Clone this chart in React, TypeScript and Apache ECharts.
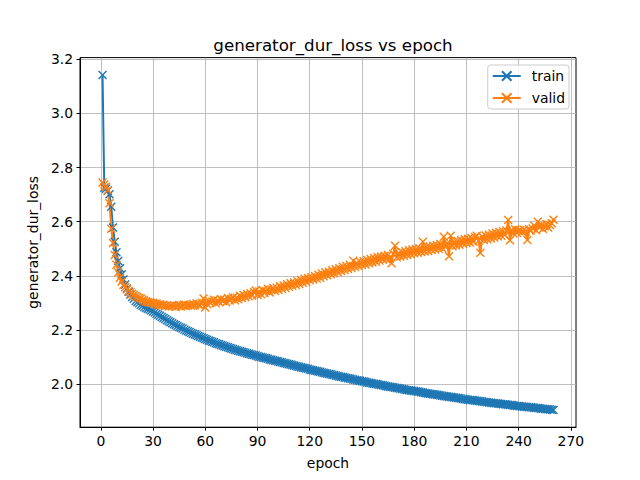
import React, { useEffect, useRef } from 'react';
import * as echarts from 'echarts';

const titleText = 'generator_dur_loss vs epoch';
const xName = 'epoch';
const yName = 'generator_dur_loss';
const seriesNames = ['train', 'valid'];
const xTicks = [0, 30, 60, 90, 120, 150, 180, 210, 240, 270];
const yTicks = [2.0, 2.2, 2.4, 2.6, 2.8, 3.0, 3.2];
const xRange = [-11.95, 272.95];
const yRange = [1.8404, 3.2063];

const train = [
  3.142, 2.725, 2.722, 2.714, 2.701, 2.655, 2.578, 2.526, 2.487, 2.455,
  2.428, 2.405, 2.386, 2.368, 2.353, 2.341, 2.331, 2.322, 2.315, 2.307,
  2.302, 2.298, 2.293, 2.289, 2.285, 2.281, 2.278, 2.275, 2.272, 2.268,
  2.264, 2.260, 2.256, 2.252, 2.248, 2.244, 2.240, 2.236, 2.232, 2.228,
  2.225, 2.221, 2.218, 2.214, 2.211, 2.208, 2.205, 2.201, 2.198, 2.195,
  2.192, 2.189, 2.186, 2.183, 2.180, 2.177, 2.175, 2.172, 2.169, 2.166,
  2.164, 2.161, 2.159, 2.156, 2.154, 2.151, 2.149, 2.147, 2.144, 2.142,
  2.140, 2.138, 2.136, 2.133, 2.131, 2.129, 2.127, 2.125, 2.123, 2.121,
  2.119, 2.117, 2.116, 2.114, 2.112, 2.110, 2.108, 2.107, 2.105, 2.103,
  2.101, 2.100, 2.098, 2.096, 2.095, 2.093, 2.091, 2.090, 2.088, 2.086,
  2.085, 2.083, 2.081, 2.080, 2.078, 2.077, 2.075, 2.073, 2.072, 2.070,
  2.068, 2.067, 2.065, 2.064, 2.062, 2.060, 2.059, 2.057, 2.056, 2.054,
  2.052, 2.051, 2.049, 2.048, 2.046, 2.045, 2.043, 2.042, 2.040, 2.039,
  2.037, 2.036, 2.034, 2.033, 2.031, 2.030, 2.028, 2.027, 2.026, 2.024,
  2.023, 2.021, 2.020, 2.019, 2.017, 2.016, 2.014, 2.013, 2.012, 2.010,
  2.009, 2.008, 2.006, 2.005, 2.004, 2.002, 2.001, 2.000, 1.999, 1.997,
  1.996, 1.995, 1.994, 1.992, 1.991, 1.990, 1.989, 1.988, 1.986, 1.985,
  1.984, 1.983, 1.982, 1.981, 1.979, 1.978, 1.977, 1.976, 1.975, 1.974,
  1.973, 1.972, 1.971, 1.970, 1.969, 1.967, 1.966, 1.965, 1.964, 1.963,
  1.962, 1.961, 1.960, 1.959, 1.958, 1.957, 1.956, 1.955, 1.954, 1.953,
  1.952, 1.951, 1.950, 1.949, 1.948, 1.947, 1.946, 1.945, 1.944, 1.943,
  1.942, 1.941, 1.941, 1.940, 1.939, 1.938, 1.937, 1.936, 1.935, 1.934,
  1.934, 1.933, 1.932, 1.931, 1.930, 1.929, 1.929, 1.928, 1.927, 1.926,
  1.925, 1.925, 1.924, 1.923, 1.922, 1.922, 1.921, 1.920, 1.919, 1.919,
  1.918, 1.917, 1.916, 1.916, 1.915, 1.914, 1.914, 1.913, 1.912, 1.911,
  1.911, 1.910, 1.909, 1.909, 1.908, 1.907, 1.907, 1.906, 1.905, 1.904,
];

const valid = [
  2.745, 2.737, 2.729, 2.716, 2.668, 2.574, 2.521, 2.477, 2.441, 2.412,
  2.393, 2.379, 2.366, 2.358, 2.350, 2.344, 2.339, 2.334, 2.330, 2.325,
  2.322, 2.318, 2.316, 2.311, 2.309, 2.305, 2.303, 2.301, 2.299, 2.300,
  2.296, 2.298, 2.293, 2.295, 2.291, 2.293, 2.288, 2.290, 2.286, 2.289,
  2.287, 2.291, 2.285, 2.289, 2.292, 2.286, 2.290, 2.294, 2.288, 2.291,
  2.293, 2.289, 2.296, 2.291, 2.298, 2.294, 2.290, 2.300, 2.316, 2.283,
  2.296, 2.308, 2.299, 2.305, 2.311, 2.298, 2.309, 2.303, 2.314, 2.306,
  2.312, 2.302, 2.318, 2.309, 2.315, 2.321, 2.310, 2.319, 2.313, 2.326,
  2.318, 2.329, 2.321, 2.333, 2.324, 2.335, 2.327, 2.340, 2.346, 2.329,
  2.342, 2.332, 2.347, 2.336, 2.343, 2.351, 2.338, 2.349, 2.355, 2.344,
  2.356, 2.347, 2.361, 2.352, 2.364, 2.355, 2.369, 2.359, 2.372, 2.363,
  2.375, 2.366, 2.380, 2.370, 2.384, 2.374, 2.389, 2.377, 2.392, 2.383,
  2.395, 2.386, 2.399, 2.390, 2.404, 2.393, 2.408, 2.398, 2.413, 2.402,
  2.415, 2.406, 2.420, 2.409, 2.424, 2.413, 2.428, 2.418, 2.433, 2.421,
  2.436, 2.425, 2.441, 2.429, 2.456, 2.432, 2.447, 2.436, 2.451, 2.440,
  2.454, 2.442, 2.458, 2.446, 2.462, 2.449, 2.466, 2.452, 2.469, 2.456,
  2.471, 2.459, 2.474, 2.461, 2.477, 2.464, 2.446, 2.481, 2.511, 2.468,
  2.484, 2.471, 2.488, 2.474, 2.491, 2.477, 2.494, 2.480, 2.497, 2.483,
  2.499, 2.485, 2.502, 2.488, 2.526, 2.490, 2.505, 2.492, 2.508, 2.495,
  2.511, 2.497, 2.514, 2.500, 2.517, 2.503, 2.544, 2.506, 2.521, 2.472,
  2.548, 2.509, 2.526, 2.512, 2.529, 2.515, 2.532, 2.518, 2.535, 2.521,
  2.537, 2.523, 2.540, 2.526, 2.543, 2.548, 2.529, 2.485, 2.545, 2.532,
  2.549, 2.535, 2.552, 2.538, 2.556, 2.541, 2.559, 2.545, 2.562, 2.548,
  2.565, 2.551, 2.567, 2.606, 2.531, 2.569, 2.556, 2.572, 2.559, 2.566,
  2.568, 2.562, 2.570, 2.565, 2.532, 2.572, 2.566, 2.575, 2.585, 2.568,
  2.600, 2.578, 2.589, 2.573, 2.583, 2.591, 2.578, 2.588, 2.594, 2.607,
];

const epochs = train.map((_, i) => i + 1);

const colors = ['#1f77b4', '#ff7f0e'];
const FONT = 'DejaVu Sans';
const xMarker = 'path://M0,0L10,10M10,0L0,10';

export default function App() {
  const ref = useRef<HTMLDivElement>(null);
  useEffect(() => {
    document.body.style.margin = '0';
    const chart = echarts.init(ref.current!, null, { renderer: 'svg' });
    const mk = (name: string, vals: number[], color: string) => ({
      name,
      type: 'line',
      data: vals.map((v, i) => [epochs[i], v]),
      symbol: xMarker,
      symbolSize: 8,
      showAllSymbol: true,
      lineStyle: { color, width: 2 },
      itemStyle: { color, borderColor: color, borderWidth: 1.4 },
      emphasis: { disabled: true },
    });
    chart.setOption({
      animation: false,
      backgroundColor: '#ffffff',
      textStyle: { fontFamily: FONT },
      title: {
        text: titleText,
        left: 328,
        textAlign: 'center',
        top: 31,
        textStyle: { fontFamily: FONT, fontSize: 16.7, fontWeight: 'normal', color: '#000' },
      },
      legend: {
        data: seriesNames,
        orient: 'vertical',
        right: 71,
        top: 65,
        itemWidth: 28,
        itemHeight: 12,
        itemGap: 8,
        padding: [4, 4, 4, 4],
        backgroundColor: 'rgba(255,255,255,0.8)',
        borderColor: '#cccccc',
        borderWidth: 1,
        borderRadius: 3,
        selectedMode: false,
        textStyle: { fontFamily: FONT, fontSize: 13.9, color: '#000', padding: [0, 0, 0, 6] },
      },
      grid: {
        left: 80,
        right: 64,
        top: 57.6,
        bottom: 52.8,
        show: true,
        borderColor: '#000',
        borderWidth: 1,
        backgroundColor: 'transparent',
      },
      xAxis: {
        type: 'value',
        min: xRange[0],
        max: xRange[1],
        name: xName,
        nameLocation: 'middle',
        nameGap: 29,
        nameTextStyle: { fontFamily: FONT, fontSize: 13.9, color: '#000' },
        axisLine: { show: true, onZero: false, lineStyle: { color: '#000', width: 1 } },
        axisTick: { show: true, customValues: xTicks, length: 3.5, lineStyle: { color: '#000', width: 1 } },
        axisLabel: { customValues: xTicks, margin: 7, fontFamily: FONT, fontSize: 13.9, color: '#000' },
        splitLine: { show: true, lineStyle: { color: '#b0b0b0', width: 0.8 } },
      },
      yAxis: {
        type: 'value',
        min: yRange[0],
        max: yRange[1],
        name: yName,
        nameLocation: 'middle',
        nameGap: 40,
        nameTextStyle: { fontFamily: FONT, fontSize: 13.9, color: '#000' },
        axisLine: { show: true, onZero: false, lineStyle: { color: '#000', width: 1 } },
        axisTick: { show: true, customValues: yTicks, length: 3.5, lineStyle: { color: '#000', width: 1 } },
        axisLabel: {
          customValues: yTicks,
          margin: 7,
          fontFamily: FONT,
          fontSize: 13.9,
          color: '#000',
          formatter: (v: number) => v.toFixed(1),
        },
        splitLine: { show: true, lineStyle: { color: '#b0b0b0', width: 0.8 } },
      },
      series: [mk(seriesNames[0], train, colors[0]), mk(seriesNames[1], valid, colors[1])],
    });
    return () => chart.dispose();
  }, []);
  return <div ref={ref} style={{ width: 640, height: 480 }} />;
}
